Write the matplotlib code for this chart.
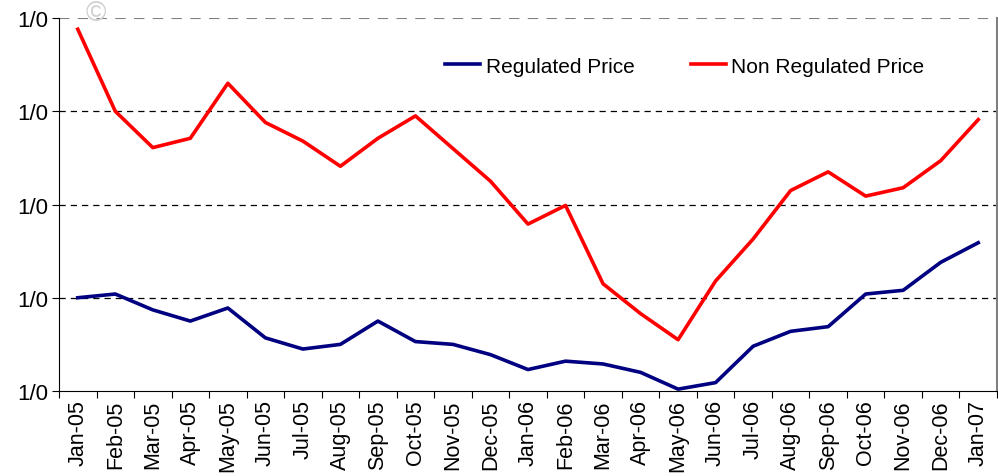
import numpy as np
import matplotlib.pyplot as plt

# Monthly prices (axis labels are all "1/0" in the source)
months = ['Jan-05', 'Feb-05', 'Mar-05', 'Apr-05', 'May-05', 'Jun-05', 'Jul-05',
          'Aug-05', 'Sep-05', 'Oct-05', 'Nov-05', 'Dec-05', 'Jan-06', 'Feb-06',
          'Mar-06', 'Apr-06', 'May-06', 'Jun-06', 'Jul-06', 'Aug-06', 'Sep-06',
          'Oct-06', 'Nov-06', 'Dec-06', 'Jan-07']
regulated = [1.00, 1.04, 0.87, 0.75, 0.89, 0.57, 0.45, 0.50, 0.75, 0.53, 0.50, 0.39,
             0.23, 0.32, 0.29, 0.20, 0.02, 0.09, 0.48, 0.64, 0.69, 1.04, 1.08, 1.38, 1.59]
non_regulated = [3.88, 3.00, 2.61, 2.71, 3.30, 2.88, 2.68, 2.41, 2.71, 2.95, 2.60, 2.25,
                 1.79, 1.99, 1.15, 0.83, 0.55, 1.18, 1.63, 2.15, 2.35, 2.09, 2.18, 2.47, 2.91]
y_ticks = [0, 1, 2, 3, 4]
y_labels = ['1/0'] * 5

plt.rcParams['font.family'] = ['Liberation Sans', 'DejaVu Sans']

fig = plt.figure(figsize=(9.98, 4.77), dpi=100)
ax = fig.add_axes([59 / 998, 85 / 477, 938 / 998, 373 / 477])

x = np.arange(len(months))
ax.plot(x, regulated, color='#000080', lw=2.6, label='Regulated Price', solid_joinstyle='round')
ax.plot(x, non_regulated, color='#ff0000', lw=2.6, label='Non Regulated Price', solid_joinstyle='round')

# dashed gridlines
for v in [1, 2, 3]:
    ax.axhline(v, color='black', lw=0.9, ls=(0, (5, 4)), zorder=0)
ax.axhline(4, color='#808080', lw=1.5, ls=(0, (5, 4)), zorder=0)

ax.set_xlim(-0.5, len(months) - 0.5)
ax.set_ylim(0, 4)

# tick marks between categories, labels at the centres
ax.set_xticks(np.arange(len(months) + 1) - 0.5)
ax.set_xticklabels([])
ax.tick_params(axis='x', which='major', length=5, direction='out', color='black')
ax.set_xticks(x, minor=True)
ax.set_xticklabels(months, minor=True, rotation=90, fontsize=15.5)
ax.tick_params(axis='x', which='minor', length=0, pad=6)

ax.set_yticks(y_ticks)
ax.set_yticklabels(y_labels, fontsize=16)
ax.tick_params(axis='y', length=5, direction='out', pad=3)

ax.spines['top'].set_visible(False)
ax.spines['right'].set_color('#808080')
ax.spines['right'].set_linewidth(1.5)

ax.legend(loc='center', bbox_to_anchor=(0.667, 0.871), ncol=2, frameon=False,
          fontsize=15, handlelength=1.7, handletextpad=0.25, columnspacing=2.7)

# faint copyright mark at the top
fig.text(96 / 998, 1 - 14 / 477, '\u00a9', color='#d0d0d0', fontsize=20, ha='center', va='center')

fig.savefig('out.png', dpi=100)
